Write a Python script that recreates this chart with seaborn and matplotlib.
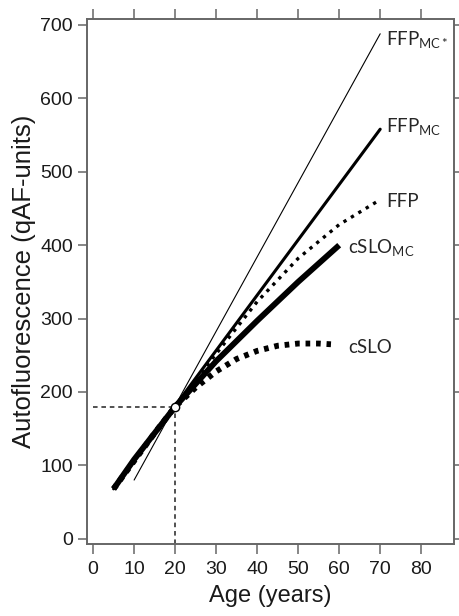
import matplotlib
matplotlib.use("Agg")
import matplotlib.pyplot as plt
import seaborn as sns

# curve values (age in years, qAF units)
ffp_mcs_age = [10, 70]
ffp_mcs_qaf = [80, 688]

ffp_mc_age = [5, 70]
ffp_mc_qaf = [68, 558]

ffp_age = [6, 10, 20, 30, 40, 50, 60, 70]
ffp_qaf = [76, 108, 180, 252, 323, 382, 428, 462]

cslo_mc_age = [5, 10, 20, 30, 40, 50, 60]
cslo_mc_qaf = [68, 108, 180, 242, 297, 350, 400]

cslo_age = [5, 10, 15, 20, 25, 30, 35, 40, 45, 50, 55, 58]
cslo_qaf = [68, 106, 144, 180, 206, 228, 245, 256, 263, 266, 266, 265]

ref_age = 20
ref_qaf = 180

x_ticks = [0, 10, 20, 30, 40, 50, 60, 70, 80]
y_ticks = [0, 100, 200, 300, 400, 500, 600, 700]

sns.set_style("ticks")
plt.rcParams["font.family"] = ["Liberation Sans", "DejaVu Sans"]
plt.rcParams["mathtext.fontset"] = "custom"
plt.rcParams["mathtext.rm"] = "Lato"
plt.rcParams["mathtext.it"] = "Lato"

fig = plt.figure(figsize=(4.6, 6.16), dpi=100)
ax = fig.add_axes([0.189, 0.117, 0.798, 0.852])

spine_col = "#666666"

# reference guides
ax.plot([0, ref_age], [ref_qaf, ref_qaf], color="#222222", lw=1.1, ls=(0, (3, 2.5)))
ax.plot([ref_age, ref_age], [-7, ref_qaf], color="#222222", lw=1.1, ls=(0, (3, 2.5)))

sns.lineplot(x=cslo_age, y=cslo_qaf, ax=ax, color="black", lw=4.2,
             linestyle=(0, (0.8, 1.0)), estimator=None, sort=False)
sns.lineplot(x=cslo_mc_age, y=cslo_mc_qaf, ax=ax, color="black", lw=4.2,
             estimator=None, sort=False, solid_capstyle="butt")
sns.lineplot(x=ffp_age, y=ffp_qaf, ax=ax, color="black", lw=2.4,
             linestyle=(0, (1, 1.6)), estimator=None, sort=False)
sns.lineplot(x=ffp_mc_age, y=ffp_mc_qaf, ax=ax, color="black", lw=2.2,
             estimator=None, sort=False)
sns.lineplot(x=ffp_mcs_age, y=ffp_mcs_qaf, ax=ax, color="black", lw=0.8,
             estimator=None, sort=False)

ax.plot([ref_age], [ref_qaf], marker="o", ms=6, mfc="white", mec="black",
        mew=1.0, zorder=5)

lab_kw = dict(fontsize=13.5, family="Lato", va="baseline", ha="left")
ax.text(71.5, 673, r"FFP$_{\mathrm{MC*}}$", **lab_kw)
ax.text(71.5, 554, r"FFP$_{\mathrm{MC}}$", **lab_kw)
ax.text(71.5, 452, "FFP", **lab_kw)
ax.text(62.2, 390, r"cSLO$_{\mathrm{MC}}$", **lab_kw)
ax.text(62.2, 253, "cSLO", **lab_kw)

ax.set_xlim(-1.5, 88)
ax.set_ylim(-7, 708)
ax.set_xticks(x_ticks)
ax.set_yticks(y_ticks)
ax.tick_params(axis="both", which="both", direction="out", top=True, right=True,
               labeltop=False, labelright=False, length=6.5, width=1.1, pad=3.5,
               color=spine_col, labelsize=14, labelcolor="#1a1a1a")
ax.tick_params(axis="x", which="both", top=True, length=7.5, pad=4.5)
for s in ax.spines.values():
    s.set_color(spine_col)
    s.set_linewidth(1.4)

ax.set_xlabel("Age (years)", fontsize=17, color="#1a1a1a", labelpad=5)
ax.set_ylabel("Autofluorescence (qAF-units)", fontsize=18.5, color="#1a1a1a", labelpad=3)

fig.savefig("out.png", dpi=100)
